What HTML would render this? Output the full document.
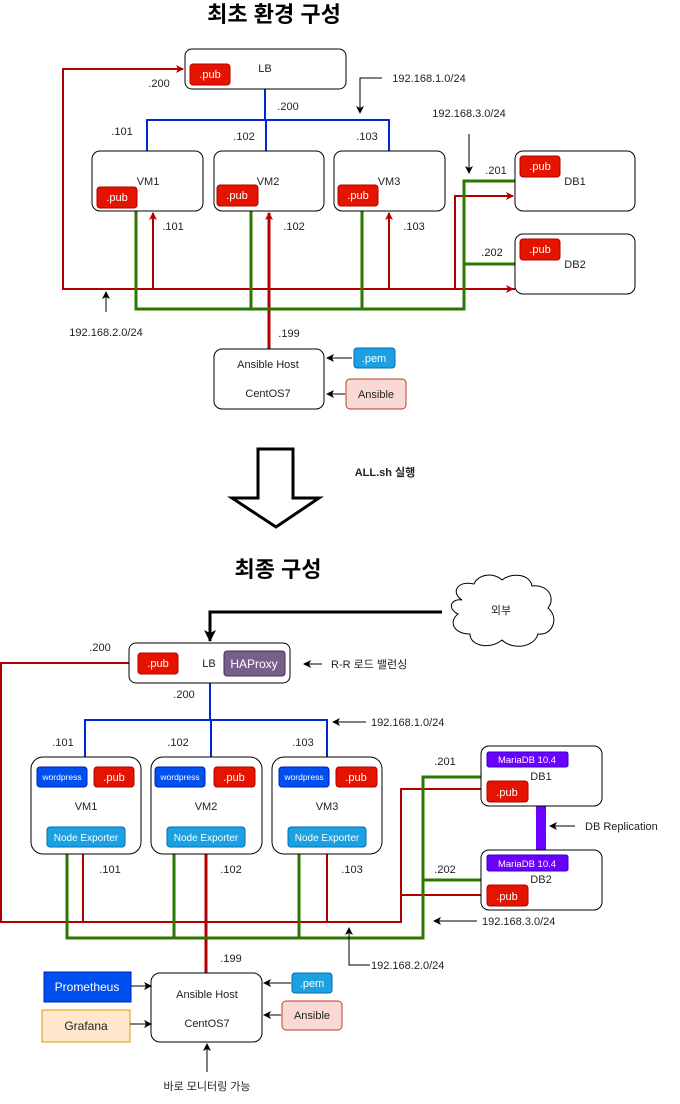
<!DOCTYPE html>
<html><head><meta charset="utf-8"><style>
html,body{margin:0;padding:0;background:#fff;}
svg{display:block;}
text{font-family:"Liberation Sans","Noto Sans CJK KR",sans-serif;font-size:11px;fill:#222;}
.w{fill:#fff;}
.c{text-anchor:middle;}
</style></head><body>
<svg width="680" height="1104" viewBox="0 0 680 1104" xmlns="http://www.w3.org/2000/svg">
<defs>
<marker id="ar" markerWidth="8" markerHeight="8" refX="7" refY="4" orient="auto" markerUnits="userSpaceOnUse"><path d="M0,0 L8,4 L0,8 L2,4 z" fill="#b20000"/></marker>
<marker id="ak" markerWidth="8" markerHeight="8" refX="7" refY="4" orient="auto" markerUnits="userSpaceOnUse"><path d="M0,0 L8,4 L0,8 L2,4 z" fill="#000"/></marker>
<marker id="ak2" markerWidth="12" markerHeight="12" refX="11" refY="6" orient="auto" markerUnits="userSpaceOnUse"><path d="M0,0 L12,6 L0,12 L3,6 z" fill="#000"/></marker>
</defs>

<!-- ===== TOP ===== -->
<text x="274" y="22" class="c" style="font-size:22px;font-weight:bold;fill:#000">최초 환경 구성</text>

<!-- red network -->
<g fill="none" stroke="#b20000" stroke-width="2">
<polyline points="515,289 63,289 63,69 183,69" marker-end="url(#ar)"/>
<line x1="63" y1="289" x2="513" y2="289" marker-end="url(#ar)"/>
<polyline points="455,289 455,196 513,196" marker-end="url(#ar)"/>
<line x1="153" y1="289" x2="153" y2="213" marker-end="url(#ar)"/>
<line x1="389" y1="289" x2="389" y2="213" marker-end="url(#ar)"/>
<line x1="269" y1="349" x2="269" y2="213" stroke-width="3" marker-end="url(#ar)"/>
</g>
<!-- green -->
<g fill="none" stroke="#2d7600" stroke-width="3">
<polyline points="136,211 136,309 464,309 464,181 515,181"/>
<line x1="251" y1="211" x2="251" y2="309"/>
<line x1="362" y1="211" x2="362" y2="309"/>
<line x1="464" y1="264" x2="515" y2="264"/>
</g>
<!-- blue -->
<g fill="none" stroke="#0027d6" stroke-width="2">
<line x1="265" y1="89" x2="265" y2="120"/>
<polyline points="147,151 147,120 389,120 389,151"/>
<line x1="266" y1="120" x2="266" y2="151"/>
</g>

<!-- boxes top -->
<g fill="#fff" stroke="#000" stroke-width="1">
<rect x="185" y="49" width="161" height="40" rx="7"/>
<rect x="92" y="151" width="111" height="60" rx="8"/>
<rect x="214" y="151" width="110" height="60" rx="8"/>
<rect x="334" y="151" width="111" height="60" rx="8"/>
<rect x="515" y="151" width="120" height="60" rx="8"/>
<rect x="515" y="234" width="120" height="60" rx="8"/>
<rect x="214" y="349" width="110" height="60" rx="8"/>
</g>
<text x="265" y="72" class="c">LB</text>
<text x="148" y="185" class="c">VM1</text>
<text x="268" y="185" class="c">VM2</text>
<text x="389" y="185" class="c">VM3</text>
<text x="575" y="185" class="c">DB1</text>
<text x="575" y="268" class="c">DB2</text>
<text x="268" y="368" class="c">Ansible Host</text>
<text x="268" y="397" class="c">CentOS7</text>

<g fill="#e51400" stroke="#b20000">
<rect x="190" y="64" width="40" height="21" rx="3"/>
<rect x="97" y="187" width="40" height="21" rx="3"/>
<rect x="217" y="185" width="41" height="21" rx="3"/>
<rect x="338" y="185" width="40" height="21" rx="3"/>
<rect x="520" y="156" width="40" height="21" rx="3"/>
<rect x="520" y="239" width="40" height="21" rx="3"/>
</g>
<g class="w">
<text x="210" y="78" class="c w">.pub</text>
<text x="117" y="201" class="c w">.pub</text>
<text x="237" y="199" class="c w">.pub</text>
<text x="358" y="199" class="c w">.pub</text>
<text x="540" y="170" class="c w">.pub</text>
<text x="540" y="253" class="c w">.pub</text>
</g>
<rect x="354" y="348" width="41" height="20" rx="3" fill="#1ba1e2" stroke="#006eaf"/>
<text x="374" y="362" class="c w">.pem</text>
<rect x="346" y="379" width="60" height="30" rx="4" fill="#fad9d5" stroke="#ae4132"/>
<text x="376" y="398" class="c">Ansible</text>
<g stroke="#000" fill="none">
<line x1="352" y1="358" x2="327" y2="358" marker-end="url(#ak)"/>
<line x1="345" y1="394" x2="327" y2="394" marker-end="url(#ak)"/>
<polyline points="382,78 360,78 360,113" marker-end="url(#ak)"/>
<line x1="469" y1="134" x2="469" y2="173" marker-end="url(#ak)"/>
<line x1="106" y1="312" x2="106" y2="292" marker-end="url(#ak)"/>
</g>
<text x="159" y="87" class="c">.200</text>
<text x="288" y="110" class="c">.200</text>
<text x="122" y="135" class="c">.101</text>
<text x="244" y="140" class="c">.102</text>
<text x="367" y="140" class="c">.103</text>
<text x="429" y="82" class="c">192.168.1.0/24</text>
<text x="469" y="117" class="c">192.168.3.0/24</text>
<text x="173" y="230" class="c">.101</text>
<text x="294" y="230" class="c">.102</text>
<text x="414" y="230" class="c">.103</text>
<text x="496" y="174" class="c">.201</text>
<text x="492" y="256" class="c">.202</text>
<text x="106" y="336" class="c">192.168.2.0/24</text>
<text x="289" y="337" class="c">.199</text>

<!-- big arrow -->
<polygon points="258,449 293,449 293,498 319,498 276,527 232,498 258,498" fill="#fff" stroke="#000" stroke-width="3"/>
<text x="385" y="476" class="c" style="font-weight:bold">ALL.sh 실행</text>
<text x="278" y="577" class="c" style="font-size:22px;font-weight:bold;fill:#000">최종 구성</text>

<!-- ===== BOTTOM ===== -->
<!-- cloud -->
<path d="M462,600 C450,592 458,580 474,584 C478,574 494,572 502,580 C512,572 530,574 532,586 C548,584 556,598 548,608 C560,618 552,636 538,634 C534,648 512,650 502,640 C490,650 470,646 470,634 C454,634 448,622 458,614 C446,608 452,598 462,600 z" fill="#fff" stroke="#000"/>
<text x="501" y="614" class="c">외부</text>
<polyline points="442,612 210,612 210,641" fill="none" stroke="#000" stroke-width="3" marker-end="url(#ak2)"/>

<!-- red -->
<g fill="none" stroke="#b20000" stroke-width="2">
<polyline points="130,663 1,663 1,922 401,922 401,789 481,789"/>
<polyline points="401,895 481,895"/>
<line x1="83" y1="854" x2="83" y2="922"/>
<line x1="327" y1="854" x2="327" y2="922"/>
<line x1="206" y1="854" x2="206" y2="973" stroke-width="3"/>
</g>
<!-- green -->
<g fill="none" stroke="#2d7600" stroke-width="3">
<polyline points="67,854 67,938 423,938 423,777 481,777"/>
<line x1="174" y1="854" x2="174" y2="938"/>
<line x1="299" y1="854" x2="299" y2="938"/>
<line x1="423" y1="880" x2="481" y2="880"/>
</g>
<!-- blue -->
<g fill="none" stroke="#0027d6" stroke-width="2">
<line x1="210" y1="683" x2="210" y2="720"/>
<polyline points="85,757 85,720 327,720 327,757"/>
<line x1="211" y1="720" x2="211" y2="757"/>
</g>
<rect x="536" y="806" width="10" height="44" fill="#6a00ff"/>

<g fill="#fff" stroke="#000">
<rect x="129" y="643" width="161" height="40" rx="7"/>
<rect x="31" y="757" width="110" height="97" rx="12"/>
<rect x="151" y="757" width="111" height="97" rx="12"/>
<rect x="272" y="757" width="110" height="97" rx="12"/>
<rect x="481" y="746" width="121" height="60" rx="8"/>
<rect x="481" y="850" width="121" height="60" rx="8"/>
<rect x="151" y="973" width="111" height="69" rx="9"/>
</g>
<text x="209" y="667" class="c">LB</text>
<text x="86" y="810" class="c">VM1</text>
<text x="206" y="810" class="c">VM2</text>
<text x="327" y="810" class="c">VM3</text>
<text x="541" y="780" class="c">DB1</text>
<text x="541" y="883" class="c">DB2</text>
<text x="207" y="998" class="c">Ansible Host</text>
<text x="207" y="1027" class="c">CentOS7</text>

<g fill="#e51400" stroke="#b20000">
<rect x="138" y="653" width="40" height="21" rx="3"/>
<rect x="94" y="767" width="40" height="20" rx="3"/>
<rect x="214" y="767" width="41" height="20" rx="3"/>
<rect x="336" y="767" width="41" height="20" rx="3"/>
<rect x="487" y="781" width="41" height="21" rx="3"/>
<rect x="487" y="885" width="41" height="21" rx="3"/>
</g>
<text x="158" y="667" class="c w">.pub</text>
<text x="114" y="781" class="c w">.pub</text>
<text x="234" y="781" class="c w">.pub</text>
<text x="356" y="781" class="c w">.pub</text>
<text x="507" y="796" class="c w">.pub</text>
<text x="507" y="900" class="c w">.pub</text>

<rect x="224" y="651" width="61" height="25" rx="3" fill="#76608a" stroke="#432d57"/>
<text x="254" y="668" class="c w" style="font-size:12px">HAProxy</text>

<g fill="#0050ef" stroke="#001dbc">
<rect x="37" y="767" width="50" height="20" rx="3"/>
<rect x="155" y="767" width="50" height="20" rx="3"/>
<rect x="279" y="767" width="50" height="20" rx="3"/>
</g>
<g style="font-size:8.5px">
<text x="62" y="780" class="c w" style="font-size:8.5px">wordpress</text>
<text x="180" y="780" class="c w" style="font-size:8.5px">wordpress</text>
<text x="304" y="780" class="c w" style="font-size:8.5px">wordpress</text>
</g>
<g fill="#1ba1e2" stroke="#006eaf">
<rect x="47" y="827" width="78" height="20" rx="3"/>
<rect x="167" y="827" width="78" height="20" rx="3"/>
<rect x="288" y="827" width="78" height="20" rx="3"/>
</g>
<text x="86" y="841" class="c w" style="font-size:10px">Node Exporter</text>
<text x="206" y="841" class="c w" style="font-size:10px">Node Exporter</text>
<text x="327" y="841" class="c w" style="font-size:10px">Node Exporter</text>
<g fill="#6a00ff" stroke="#3700cc">
<rect x="487" y="752" width="81" height="15" rx="2"/>
<rect x="487" y="855" width="81" height="16" rx="2"/>
</g>
<text x="527" y="763" class="c w" style="font-size:9.5px">MariaDB 10.4</text>
<text x="527" y="867" class="c w" style="font-size:9.5px">MariaDB 10.4</text>

<rect x="44" y="972" width="87" height="30" fill="#0050ef" stroke="#001dbc"/>
<text x="87" y="991" class="c w" style="font-size:12px">Prometheus</text>
<rect x="42" y="1010" width="88" height="32" fill="#ffe6cc" stroke="#d79b00"/>
<text x="86" y="1030" class="c" style="font-size:12px">Grafana</text>
<rect x="292" y="973" width="40" height="20" rx="3" fill="#1ba1e2" stroke="#006eaf"/>
<text x="312" y="987" class="c w">.pem</text>
<rect x="282" y="1001" width="60" height="29" rx="4" fill="#fad9d5" stroke="#ae4132"/>
<text x="312" y="1019" class="c">Ansible</text>

<g stroke="#000" fill="none">
<line x1="131" y1="986" x2="151" y2="986" marker-end="url(#ak)"/>
<line x1="130" y1="1024" x2="151" y2="1024" marker-end="url(#ak)"/>
<line x1="291" y1="983" x2="264" y2="983" marker-end="url(#ak)"/>
<line x1="281" y1="1015" x2="264" y2="1015" marker-end="url(#ak)"/>
<line x1="207" y1="1072" x2="207" y2="1044" marker-end="url(#ak)"/>
<line x1="322" y1="664" x2="304" y2="664" marker-end="url(#ak)"/>
<line x1="366" y1="722" x2="333" y2="722" marker-end="url(#ak)"/>
<line x1="575" y1="826" x2="550" y2="826" marker-end="url(#ak)"/>
<line x1="477" y1="921" x2="434" y2="921" marker-end="url(#ak)"/>
<polyline points="370,965 349,965 349,928" marker-end="url(#ak)"/>
</g>
<text x="331" y="668">R-R 로드 밸런싱</text>
<text x="100" y="651" class="c">.200</text>
<text x="184" y="698" class="c">.200</text>
<text x="371" y="726">192.168.1.0/24</text>
<text x="63" y="746" class="c">.101</text>
<text x="178" y="746" class="c">.102</text>
<text x="303" y="746" class="c">.103</text>
<text x="110" y="873" class="c">.101</text>
<text x="231" y="873" class="c">.102</text>
<text x="352" y="873" class="c">.103</text>
<text x="445" y="765" class="c">.201</text>
<text x="445" y="873" class="c">.202</text>
<text x="585" y="830">DB  Replication</text>
<text x="482" y="925">192.168.3.0/24</text>
<text x="371" y="969">192.168.2.0/24</text>
<text x="231" y="962" class="c">.199</text>
<text x="207" y="1090" class="c">바로 모니터링 가능</text>
</svg>
</body></html>
